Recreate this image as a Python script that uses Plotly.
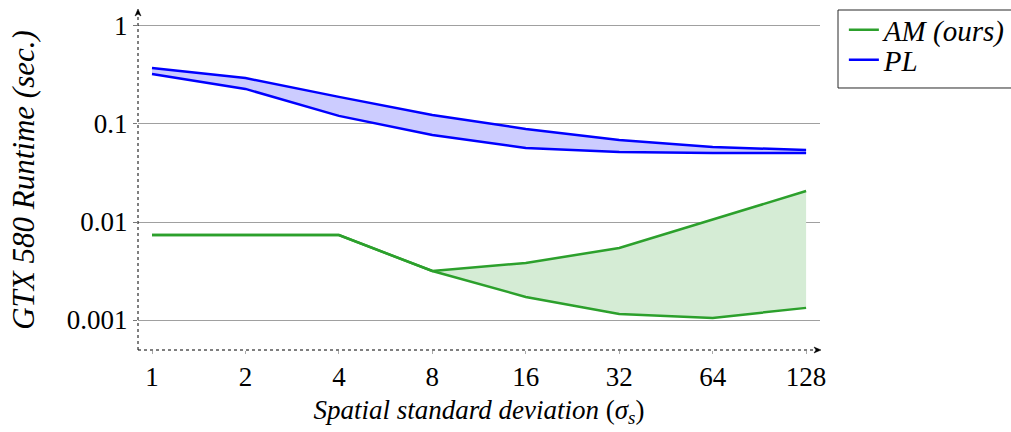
import plotly.graph_objects as go

sigma = [1, 2, 4, 8, 16, 32, 64, 128]
am_upper = [0.00736, 0.00736, 0.00736, 0.00316, 0.00382, 0.00543, 0.0107, 0.0207]
am_lower = [0.00736, 0.00736, 0.00736, 0.00316, 0.00172, 0.00115, 0.00105, 0.00133]
pl_upper = [0.373, 0.294, 0.189, 0.1236, 0.089, 0.0687, 0.0582, 0.0543]
pl_lower = [0.324, 0.228, 0.121, 0.0773, 0.0569, 0.0518, 0.0506, 0.0506]

y_ticks = [1, 0.1, 0.01, 0.001]
y_ticklabels = ["1", "0.1", "0.01", "0.001"]

GREEN = "rgb(44,160,44)"
GREEN_FILL = "rgb(213,236,213)"
BLUE = "rgb(0,0,255)"
BLUE_FILL = "rgb(204,204,255)"
FONT = "Liberation Serif"

fig = go.Figure()
# AM band
fig.add_trace(go.Scatter(x=sigma, y=am_lower, mode="lines", line=dict(color=GREEN, width=2.5),
                         showlegend=False, hoverinfo="skip"))
fig.add_trace(go.Scatter(x=sigma, y=am_upper, mode="lines", line=dict(color=GREEN, width=2.5),
                         fill="tonexty", fillcolor=GREEN_FILL, showlegend=False))
# PL band
fig.add_trace(go.Scatter(x=sigma, y=pl_lower, mode="lines", line=dict(color=BLUE, width=2.5),
                         showlegend=False, hoverinfo="skip"))
fig.add_trace(go.Scatter(x=sigma, y=pl_upper, mode="lines", line=dict(color=BLUE, width=2.5),
                         fill="tonexty", fillcolor=BLUE_FILL, showlegend=False))
# legend entries (one legend per row to control spacing)
fig.add_trace(go.Scatter(x=[None], y=[None], mode="lines", line=dict(color=GREEN, width=2.5),
                         name="<i>AM (ours)</i>", legend="legend"))
fig.add_trace(go.Scatter(x=[None], y=[None], mode="lines", line=dict(color=BLUE, width=2.5),
                         name="<i>PL</i>", legend="legend2"))

leg_common = dict(xanchor="left", yanchor="middle", borderwidth=0, bgcolor="rgba(0,0,0,0)",
                  font=dict(family=FONT, size=29), itemwidth=30)

fig.update_layout(
    width=1011, height=432,
    margin=dict(l=138, r=191, t=10, b=82, autoexpand=False),
    plot_bgcolor="white", paper_bgcolor="white",
    font=dict(family=FONT, size=27, color="black"),
    legend=dict(x=1.035, y=0.9415, **leg_common),
    legend2=dict(x=1.035, y=0.853, **leg_common),
    xaxis=dict(type="log", range=[-0.0451, 2.152],
               tickvals=sigma, ticktext=[str(s) for s in sigma],
               showgrid=False, zeroline=False, showline=False,
               ticks="outside", ticklen=3, tickcolor="rgb(170,170,170)",
               tickfont=dict(family=FONT, size=27),
               title=dict(text="<i>Spatial standard deviation</i> (<i>σ<sub>s</sub></i>)",
                          font=dict(family=FONT, size=27), standoff=8)),
    yaxis=dict(type="log", range=[-3.306, 0.163],
               tickvals=y_ticks, ticktext=y_ticklabels,
               showgrid=True, gridcolor="rgb(160,160,160)", gridwidth=1,
               zeroline=False, showline=False,
               ticks="outside", ticklen=4, tickcolor="rgb(120,120,120)",
               tickfont=dict(family=FONT, size=27),
               title=dict(text="<i>GTX 580 Runtime (sec.)</i>",
                          font=dict(family=FONT, size=31), standoff=22)),
    showlegend=True,
)

# legend frame (extends past right edge as in reference)
fig.add_shape(type="rect", xref="paper", yref="paper", x0=1.0264, x1=1.30, y0=0.7706, y1=1.0,
              line=dict(color="rgb(40,40,40)", width=1), fillcolor="rgba(0,0,0,0)")

# dotted axis lines with arrowheads
fig.add_shape(type="line", xref="paper", yref="paper", x0=0, x1=1.0, y0=0, y1=0,
              line=dict(color="black", width=1, dash="dot"))
fig.add_shape(type="line", xref="paper", yref="paper", x0=0, x1=0, y0=0, y1=1.0,
              line=dict(color="black", width=1, dash="dot"))
fig.add_shape(type="path", xref="paper", yref="paper", xsizemode="pixel", ysizemode="pixel",
              xanchor=1.0, yanchor=0, path="M 1,0 L -6,3 L -4,0 L -6,-3 Z",
              fillcolor="black", line=dict(color="black", width=0.5))
fig.add_shape(type="path", xref="paper", yref="paper", xsizemode="pixel", ysizemode="pixel",
              xanchor=0, yanchor=1.0, path="M 0,1 L -3,-6 L 0,-4 L 3,-6 Z",
              fillcolor="black", line=dict(color="black", width=0.5))

fig.write_html("out.html")
